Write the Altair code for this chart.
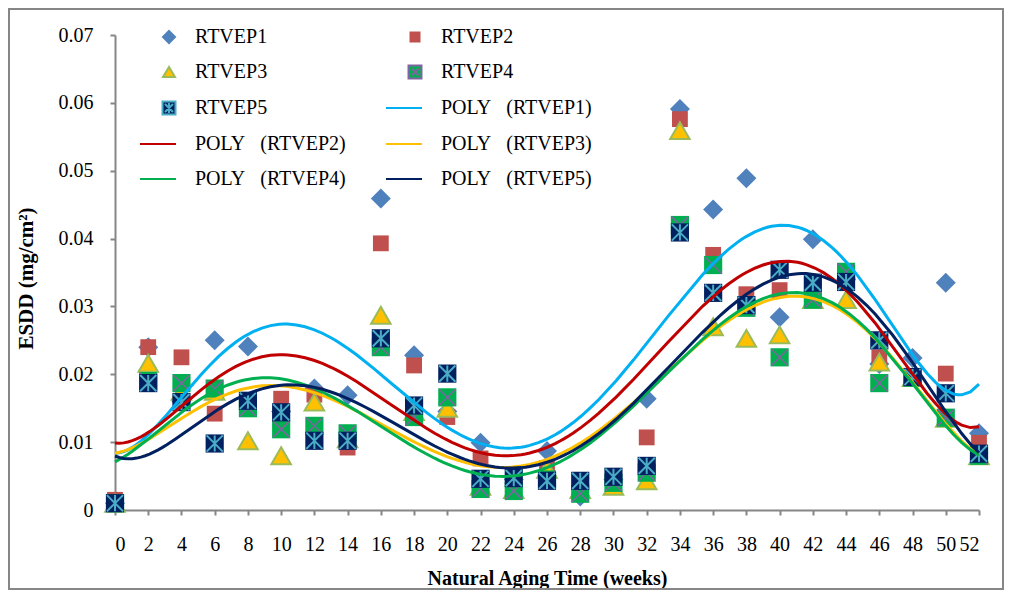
import json
import altair as alt
import pandas as pd

weeks = list(range(0, 54, 2))

rtvep1 = [0.0010, 0.0240, 0.0160, 0.0250, 0.0241, 0.0145, 0.0179, 0.0169, 0.0459, 0.0228,
          0.0145, 0.0099, 0.0045, 0.0087, 0.0020, 0.0045, 0.0164, 0.0591, 0.0443, 0.0489,
          0.0284, 0.0399, 0.0340, 0.0215, 0.0224, 0.0335, 0.0113]
rtvep2 = [0.0015, 0.0240, 0.0225, 0.0142, 0.0160, 0.0164, 0.0170, 0.0092, 0.0393, 0.0213,
          0.0137, 0.0076, 0.0045, 0.0062, 0.0030, 0.0045, 0.0107, 0.0576, 0.0376, 0.0318,
          0.0324, 0.0315, 0.0345, 0.0225, 0.0195, 0.0201, 0.0099]
rtvep3 = [0.0010, 0.0216, 0.0175, 0.0175, 0.0102, 0.0080, 0.0159, 0.0105, 0.0287, 0.0145,
          0.0150, 0.0035, 0.0030, 0.0060, 0.0030, 0.0035, 0.0043, 0.0559, 0.0270, 0.0253,
          0.0258, 0.0310, 0.0310, 0.0218, 0.0195, 0.0135, 0.0080]
rtvep4 = [0.0010, 0.0190, 0.0187, 0.0179, 0.0150, 0.0119, 0.0124, 0.0113, 0.0240, 0.0137,
          0.0166, 0.0031, 0.0028, 0.0045, 0.0024, 0.0040, 0.0055, 0.0420, 0.0361, 0.0298,
          0.0225, 0.0310, 0.0351, 0.0187, 0.0195, 0.0136, 0.0080]
rtvep5 = [0.0010, 0.0187, 0.0159, 0.0098, 0.0161, 0.0144, 0.0102, 0.0102, 0.0253, 0.0154,
          0.0201, 0.0046, 0.0047, 0.0043, 0.0043, 0.0049, 0.0065, 0.0409, 0.0320, 0.0302,
          0.0354, 0.0335, 0.0336, 0.0250, 0.0196, 0.0172, 0.0083]

series_names = ["RTVEP1", "RTVEP2", "RTVEP3", "RTVEP4", "RTVEP5"]
series_values = [rtvep1, rtvep2, rtvep3, rtvep4, rtvep5]
marker_fill = ["#4F81BD", "#C0504D", "#FFC000", "#00B050", "#002060"]
marker_edge = ["#4F81BD", "#C0504D", "#9BBB59", "#8064A2", "#4BACC6"]
marker_shape = ["diamond", "square", "triangle-up", "square", "square"]
marker_size = [400, 250, 380, 330, 330]
line_colors = ["#00B0F0", "#C00000", "#FFC000", "#00B050", "#002060"]
y_ticks = [0, 0.01, 0.02, 0.03, 0.04, 0.05, 0.06, 0.07]

NB = "\u00a0"
poly_labels = ["POLY" + NB * 3 + "(" + n + ")" for n in series_names]

rows = []
for name, poly, vals in zip(series_names, poly_labels, series_values):
    for w, v in zip(weeks, vals):
        rows.append({"week": w, "esdd": v, "series": name, "label": poly})
df = pd.DataFrame(rows)

W, H = 864, 475
FONT = "Liberation Serif"
X_PATH = "M-1,-1L1,1M-1,1L1,-1"
AST_PATH = "M-1,-1L1,1M-1,1L1,-1M0,-1L0,1"

x_enc = alt.X("week:Q", scale=alt.Scale(domain=[0, 52], nice=False, zero=False),
              axis=alt.Axis(values=weeks, title="Natural Aging Time (weeks)", grid=False,
                            titleY=58, titleFontSize=20))
y_enc = alt.Y("esdd:Q", scale=alt.Scale(domain=[0, 0.07], nice=False),
              axis=alt.Axis(values=y_ticks, format=".2~f", title="ESDD (mg/cm²)", grid=False,
                            titleX=-79, titleY=243, titleFontSize=21))

layers = []
for i, name in enumerate(series_names):
    base = alt.Chart(df).transform_filter(alt.datum.series == name)
    kw = dict(shape=marker_shape[i], filled=True, size=marker_size[i], color=marker_fill[i], opacity=1)
    if name == "RTVEP3":
        kw.update(stroke=marker_edge[i], strokeWidth=2)
    layers.append(base.mark_point(**kw).encode(x=x_enc, y=y_enc))
    if name == "RTVEP4":
        layers.append(base.mark_point(shape=X_PATH, filled=False, size=marker_size[i] * 0.8,
                                      stroke=marker_edge[i], strokeWidth=1.5, opacity=1).encode(x=x_enc, y=y_enc))
    if name == "RTVEP5":
        layers.append(base.mark_point(shape=AST_PATH, filled=False, size=marker_size[i] * 0.8,
                                      stroke=marker_edge[i], strokeWidth=2, opacity=1).encode(x=x_enc, y=y_enc))

# legend: one entry per marker series and per trend line (row by row, two columns)
all_labels = series_names + poly_labels
legend_stroke = marker_edge + line_colors
legend_fill = marker_fill + ["transparent"] * 5
LEAD = "M-1.8,0"  # common left anchor so all entries align in their column
legend_shapes = [
    LEAD + "M1.1,-0.6L1.7,0L1.1,0.6L0.5,0Z",
    LEAD + "M0.65,-0.45H1.55V0.45H0.65Z",
    LEAD + "M1.1,-0.5L1.7,0.5L0.5,0.5Z",
    LEAD + "M0.45,-0.65H1.75V0.65H0.45ZM0.75,-0.35L1.45,0.35M0.75,0.35L1.45,-0.35",
    LEAD + "M0.45,-0.65H1.75V0.65H0.45ZM0.7,-0.4L1.5,0.4M0.7,0.4L1.5,-0.4M1.1,-0.5L1.1,0.5",
] + ["M-1.8,0L1.8,0"] * 5


def pick(arr):
    return alt.ExprRef(f"{json.dumps(arr)}[indexof({json.dumps(all_labels)}, datum.value)]")


legend = alt.Legend(
    title=None, orient="none", legendX=32, legendY=-9, columns=2, direction="horizontal",
    columnPadding=36, rowPadding=14, padding=0, symbolSize=400, symbolStrokeWidth=2,
    symbolType=pick(legend_shapes), symbolFillColor=pick(legend_fill),
    labelFont=FONT, labelFontSize=20, labelColor="black", labelOffset=26,
    labelLimit=300,
)

lines = alt.Chart(df).transform_regression(
    "week", "esdd", groupby=["label"], method="poly", order=6, extent=[0, 52]
).mark_line(strokeWidth=3).encode(
    x=x_enc, y=y_enc,
    color=alt.Color("label:N", scale=alt.Scale(domain=all_labels, range=legend_stroke), legend=legend),
)
layers.append(lines)

frame = alt.Chart(pd.DataFrame({"a": [0]})).mark_rect(
    filled=False, stroke="#868686", strokeWidth=2, clip=False
).encode(x=alt.value(-106), x2=alt.value(W + 24), y=alt.value(-26), y2=alt.value(H + 79))
layers.append(frame)

chart = alt.layer(*layers).properties(
    width=W, height=H,
    autosize=alt.AutoSizeParams(type="none"),
    padding={"left": 107, "top": 27, "right": 25, "bottom": 80},
).configure_view(stroke=None).configure_axis(
    domainColor="#868686", domainWidth=2, tickColor="#868686", tickWidth=2, tickSize=5,
    labelFont=FONT, labelFontSize=20, labelColor="black",
    titleFont=FONT, titleFontWeight="bold", titleColor="black",
).configure_axisX(labelPadding=19).configure_axisY(labelPadding=17)

chart.save("out.html", embed_options={"renderer": "svg", "actions": False})
